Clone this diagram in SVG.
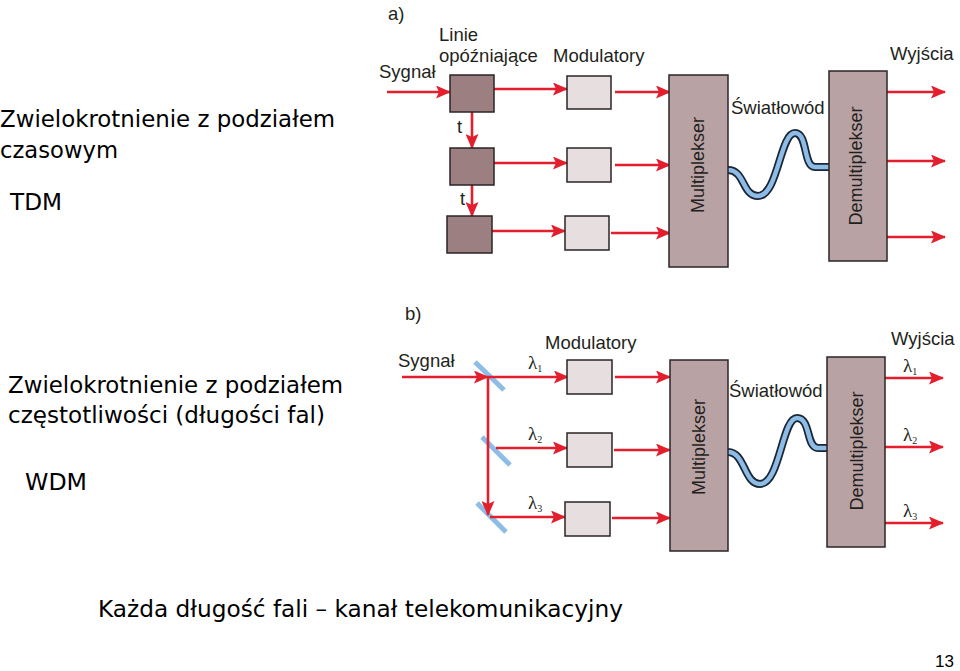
<svg xmlns="http://www.w3.org/2000/svg" width="960" height="671" viewBox="0 0 960 671">
<defs>
<marker id="ah" markerUnits="userSpaceOnUse" markerWidth="15" markerHeight="13" refX="14" refY="6.5" orient="auto">
<path d="M0,0 L15,6.5 L0,13 L3,6.5 Z" fill="#e31e2d"/>
</marker>
<style>
.big{font-family:"DejaVu Sans","Liberation Sans",sans-serif;font-size:23px;fill:#000}
.lab{font-family:"Liberation Sans",Arial,sans-serif;font-size:18.5px;fill:#231f20}
.rot{font-family:"Liberation Sans",Arial,sans-serif;font-size:18px;fill:#231f20}
.lam{font-family:"Liberation Serif","DejaVu Serif",serif;font-size:19px;fill:#231f20}
.sub{font-size:10px}
.ar{stroke:#e31e2d;stroke-width:2.6;fill:none;marker-end:url(#ah)}
.delay{fill:#9c7f81;stroke:#2b2426;stroke-width:1.5}
.mod{fill:#e7dfdf;stroke:#2b2426;stroke-width:1.5}
.mux{fill:#b8a2a3;stroke:#2b2426;stroke-width:1.5}
.fo{stroke:#1b2636;stroke-width:8;fill:none;stroke-linecap:butt}
.fi{stroke:#8dbde6;stroke-width:4.5;fill:none;stroke-linecap:butt}
.mir{stroke:#8dbde6;stroke-width:5;stroke-linecap:butt}
</style>
</defs>
<rect width="960" height="671" fill="#fff"/>

<g id="left-text">
<text class="big" x="0" y="127" textLength="335" lengthAdjust="spacingAndGlyphs">Zwielokrotnienie z podziałem</text>
<text class="big" x="0" y="158" textLength="118" lengthAdjust="spacingAndGlyphs">czasowym</text>
<text class="big" x="10" y="210" textLength="52" lengthAdjust="spacingAndGlyphs">TDM</text>
<text class="big" x="8" y="393" textLength="335" lengthAdjust="spacingAndGlyphs">Zwielokrotnienie z podziałem</text>
<text class="big" x="8" y="423" textLength="317" lengthAdjust="spacingAndGlyphs">częstotliwości (długości fal)</text>
<text class="big" x="25" y="490" textLength="62" lengthAdjust="spacingAndGlyphs">WDM</text>
<text class="big" x="98" y="617" textLength="525" lengthAdjust="spacingAndGlyphs">Każda długość fali – kanał telekomunikacyjny</text>
<text x="935" y="667" style="font-family:'Liberation Sans',Arial,sans-serif;font-size:17px">13</text>
</g>

<!-- Part a -->
<g id="a-labels">
<text class="lab" x="388" y="20">a)</text>
<text class="lab" x="439" y="41">Linie</text>
<text class="lab" x="439" y="62">opóźniające</text>
<text class="lab" x="553" y="62">Modulatory</text>
<text class="lab" x="379" y="78">Sygnał</text>
<text class="lab" x="457" y="133">t</text>
<text class="lab" x="460" y="205">t</text>
<text class="lab" x="890" y="60">Wyjścia</text>
<text class="lab" x="731" y="114">Światłowód</text>
</g>

<g id="a-connectors">
<line class="ar" x1="387" y1="92" x2="450" y2="92"/>
<line class="ar" x1="494" y1="89" x2="567" y2="89"/>
<line class="ar" x1="615" y1="92" x2="670" y2="92"/>
<line class="ar" x1="472" y1="112" x2="472" y2="148"/>
<line class="ar" x1="494" y1="163" x2="567" y2="163"/>
<line class="ar" x1="615" y1="165" x2="670" y2="165"/>
<line class="ar" x1="472" y1="185" x2="472" y2="216"/>
<line class="ar" x1="492" y1="231" x2="565" y2="231"/>
<line class="ar" x1="611" y1="233" x2="670" y2="233"/>
<line class="ar" x1="887" y1="92" x2="945" y2="92"/>
<line class="ar" x1="887" y1="161" x2="945" y2="161"/>
<line class="ar" x1="887" y1="237" x2="945" y2="237"/>
<path class="fo" d="M728,170 C745,170 742,196 758,196 C778,196 780,133 795,133 C808,133 803,167 815,167 L829,167"/>
<path class="fi" d="M728,170 C745,170 742,196 758,196 C778,196 780,133 795,133 C808,133 803,167 815,167 L829,167"/>
</g>

<g id="a-delay1"><rect class="delay" x="450" y="75" width="44" height="37"/></g>
<g id="a-delay2"><rect class="delay" x="450" y="148" width="44" height="37"/></g>
<g id="a-delay3"><rect class="delay" x="447" y="216" width="45" height="37"/></g>
<g id="a-mod1"><rect class="mod" x="567" y="76" width="44" height="33"/></g>
<g id="a-mod2"><rect class="mod" x="567" y="148" width="44" height="34"/></g>
<g id="a-mod3"><rect class="mod" x="565" y="216" width="44" height="34"/></g>
<g id="a-mux">
<rect class="mux" x="669" y="75" width="59" height="192"/>
<text class="rot" transform="translate(704,165) rotate(-90)" text-anchor="middle">Multiplekser</text>
</g>
<g id="a-demux">
<rect class="mux" x="829" y="71" width="58" height="190"/>
<text class="rot" transform="translate(862,166) rotate(-90)" text-anchor="middle">Demultiplekser</text>
</g>

<!-- Part b -->
<g id="b-labels">
<text class="lab" x="405" y="320">b)</text>
<text class="lab" x="545" y="349">Modulatory</text>
<text class="lab" x="398" y="367">Sygnał</text>
<text class="lab" x="891" y="345">Wyjścia</text>
<text class="lab" x="729" y="397">Światłowód</text>
<text class="lam" x="528" y="369">λ<tspan class="sub" dy="3">1</tspan></text>
<text class="lam" x="528" y="440">λ<tspan class="sub" dy="3">2</tspan></text>
<text class="lam" x="528" y="509">λ<tspan class="sub" dy="3">3</tspan></text>
<text class="lam" x="903" y="372">λ<tspan class="sub" dy="3">1</tspan></text>
<text class="lam" x="903" y="441">λ<tspan class="sub" dy="3">2</tspan></text>
<text class="lam" x="903" y="517">λ<tspan class="sub" dy="3">3</tspan></text>
</g>

<g id="b-mirrors">
<line class="mir" x1="475" y1="362" x2="504" y2="390"/>
<line class="mir" x1="482" y1="437" x2="510" y2="465"/>
<line class="mir" x1="477" y1="503" x2="506" y2="532"/>
</g>

<g id="b-connectors">
<line class="ar" x1="402" y1="377" x2="488" y2="377"/>
<line class="ar" x1="488" y1="377" x2="568" y2="377"/>
<line class="ar" x1="488" y1="377" x2="488" y2="515"/>
<line class="ar" x1="496" y1="448" x2="567" y2="448"/>
<line class="ar" x1="490" y1="517" x2="565" y2="517"/>
<line class="ar" x1="615" y1="377" x2="670" y2="377"/>
<line class="ar" x1="614" y1="450" x2="670" y2="450"/>
<line class="ar" x1="612" y1="518" x2="670" y2="518"/>
<line class="ar" x1="885" y1="378" x2="943" y2="378"/>
<line class="ar" x1="885" y1="447" x2="943" y2="447"/>
<line class="ar" x1="885" y1="523" x2="943" y2="523"/>
<path class="fo" d="M728,452 C745,452 744,484 760,484 C780,484 782,418 797,418 C811,418 806,448 818,448 L827,448"/>
<path class="fi" d="M728,452 C745,452 744,484 760,484 C780,484 782,418 797,418 C811,418 806,448 818,448 L827,448"/>
</g>

<g id="b-mod1"><rect class="mod" x="567" y="360" width="45" height="34"/></g>
<g id="b-mod2"><rect class="mod" x="567" y="433" width="45" height="34"/></g>
<g id="b-mod3"><rect class="mod" x="565" y="502" width="45" height="34"/></g>
<g id="b-mux">
<rect class="mux" x="670" y="360" width="58" height="191"/>
<text class="rot" transform="translate(705,447) rotate(-90)" text-anchor="middle">Multiplekser</text>
</g>
<g id="b-demux">
<rect class="mux" x="827" y="357" width="58" height="190"/>
<text class="rot" transform="translate(863,451) rotate(-90)" text-anchor="middle">Demultiplekser</text>
</g>
</svg>
